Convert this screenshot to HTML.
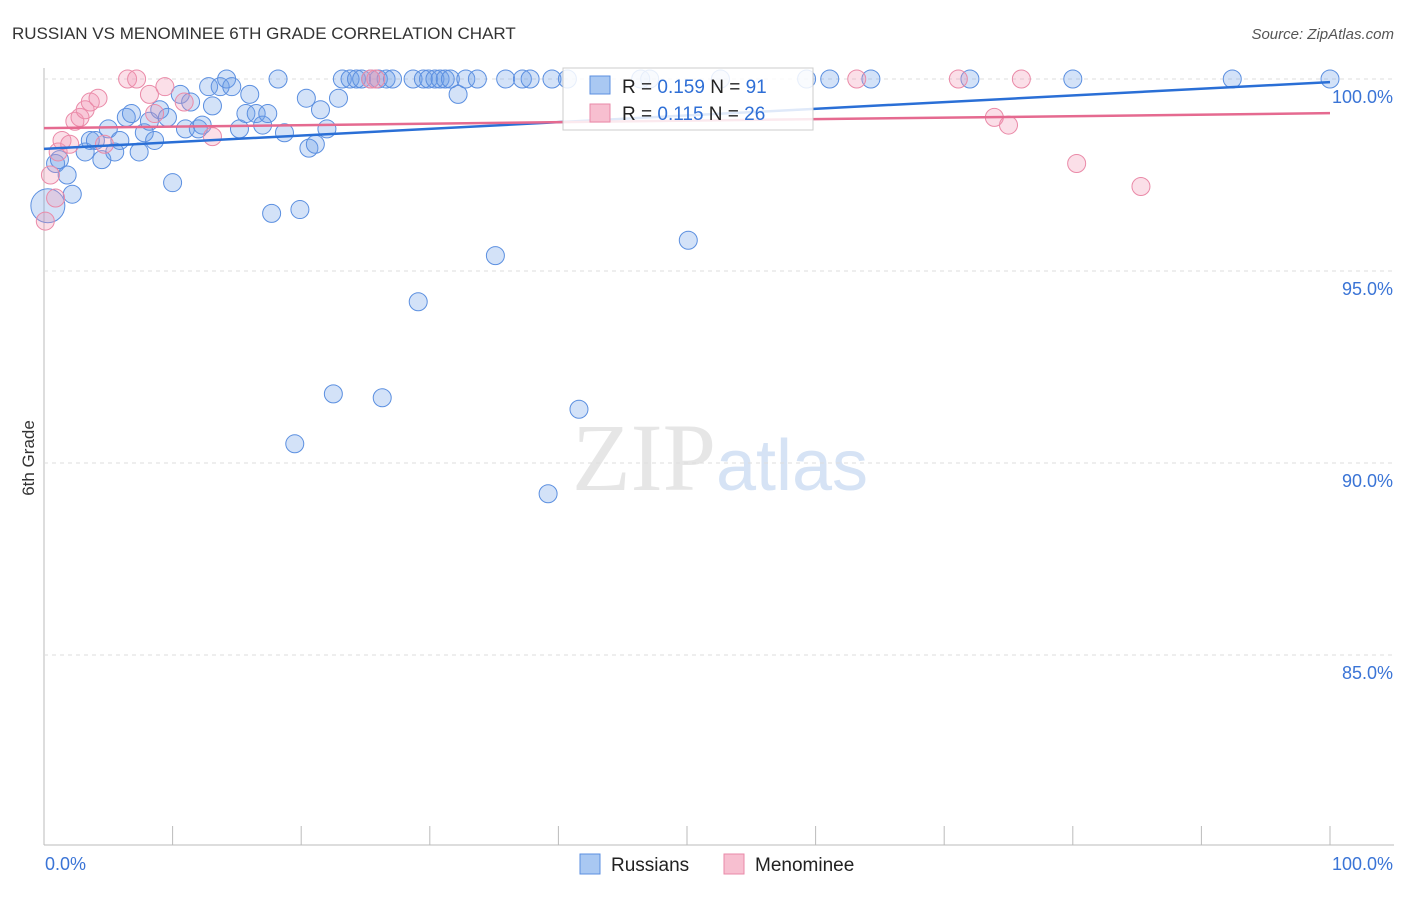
<!DOCTYPE html>
<html><head><meta charset="utf-8"><style>
body{margin:0;background:#fff;font-family:"Liberation Sans",sans-serif}
</style></head><body>
<svg id="c" width="1406" height="892" xmlns="http://www.w3.org/2000/svg" style="font-family:'Liberation Sans',sans-serif">
<text x="12" y="39" font-size="17" fill="#333">RUSSIAN VS MENOMINEE 6TH GRADE CORRELATION CHART</text>
<text x="1394" y="39" font-size="15" fill="#555" font-style="italic" text-anchor="end">Source: ZipAtlas.com</text>
<text x="34" y="458" font-size="17" fill="#333" transform="rotate(-90 34 458)" text-anchor="middle">6th Grade</text>
<text x="720" y="490" font-size="96" fill="#e6e6e6" text-anchor="middle" font-family="Liberation Serif">ZIP<tspan fill="#d6e3f5" font-family="Liberation Sans" font-size="72">atlas</tspan></text>
<g id="grid"></g><g id="pts"></g><g id="lines"></g>
<g>
<rect x="563" y="68" width="250" height="62" fill="#fff" fill-opacity="0.85" stroke="#ccc"/>
<rect x="590" y="76" width="20" height="18" fill="#a9c8f2" stroke="#5b8fe0"/>
<rect x="590" y="104" width="20" height="18" fill="#f7bfd0" stroke="#ea8aa8"/>
<text x="622" y="93" font-size="19" fill="#222">R = <tspan fill="#2f6fd6">0.159</tspan>   N =  <tspan fill="#2f6fd6">91</tspan></text>
<text x="622" y="120" font-size="19" fill="#222">R =  <tspan fill="#2f6fd6">0.115</tspan>   N = <tspan fill="#2f6fd6">26</tspan></text>
</g>
<g>
<rect x="580" y="854" width="20" height="20" fill="#a9c8f2" stroke="#5b8fe0"/>
<text x="611" y="871" font-size="19" fill="#222">Russians</text>
<rect x="724" y="854" width="20" height="20" fill="#f7bfd0" stroke="#ea8aa8"/>
<text x="755" y="871" font-size="19" fill="#222">Menominee</text>
</g>
</svg>
<script>
const yTicks=[100,95,90,85];
const xLabels=["0.0%","100.0%"];
const blueX=[0.3,0.9,1.2,1.8,2.2,3.2,3.6,4.0,4.5,5.0,5.5,5.9,6.4,6.8,7.4,7.8,8.2,8.6,9.0,9.6,10.0,10.6,11.0,11.4,12.0,12.3,12.8,13.1,13.7,14.2,14.6,15.2,15.7,16.0,16.5,17.0,17.4,17.7,18.2,18.7,19.5,19.9,20.4,20.6,21.1,21.5,22.0,22.5,22.9,23.2,23.8,24.3,24.7,25.4,26.0,26.3,26.6,27.1,28.7,29.1,29.5,29.9,30.4,30.8,31.2,31.6,32.2,32.8,33.7,35.1,35.9,37.2,37.8,39.2,39.5,40.7,41.6,46.4,47.1,50.1,52.6,59.3,61.1,64.3,72.0,80.0,92.4,100.0];
const blueY=[96.7,97.8,97.9,97.5,97.0,98.1,98.4,98.4,97.9,98.7,98.1,98.4,99.0,99.1,98.1,98.6,98.9,98.4,99.2,99.0,97.3,99.6,98.7,99.4,98.7,98.8,99.8,99.3,99.8,100,99.8,98.7,99.1,99.6,99.1,98.8,99.1,96.5,100,98.6,90.5,96.6,99.5,98.2,98.3,99.2,98.7,91.8,99.5,100,100,100,100,100,100,91.7,100,100,100,94.2,100,100,100,100,100,100,99.6,100,100,95.4,100,100,100,89.2,100,100,91.4,100,100,95.8,100,100,100,100,100,100,100,100];
const pinkX=[0.1,0.5,0.9,1.1,1.4,2.0,2.4,2.8,3.2,3.6,4.2,4.7,6.5,7.2,8.2,8.6,9.4,10.9,13.1,25.4,25.8,63.2,71.1,76.0,73.9,75.0,80.3,85.3];
const pinkY=[96.3,97.5,96.9,98.1,98.4,98.3,98.9,99.0,99.2,99.4,99.5,98.3,100,100,99.6,99.1,99.8,99.4,98.5,100,100,100,100,100,99.0,98.8,97.8,97.2];
const blueTrend=[98.18,99.92], pinkTrend=[98.72,99.11];
const X=v=>44+v*12.86, Y=v=>79+(100-v)*38.4;
const NS="http://www.w3.org/2000/svg";
function mk(t,a,p){const e=document.createElementNS(NS,t);for(const k in a)e.setAttribute(k,a[k]);p.appendChild(e);return e;}
const grid=document.getElementById('grid');
const ax=mk('line',{x1:44,y1:68,x2:44,y2:845,stroke:'#bbb'},grid);


const bx=mk('line',{x1:44,y1:845,x2:1394,y2:845,stroke:'#bbb'},grid);


yTicks.forEach(t=>{
 const g=mk('line',{x1:44,x2:1394,y1:Y(t),y2:Y(t),stroke:'#ddd','stroke-dasharray':'4,4'},grid);
 
 
 const l=mk('text',{x:1393,y:Y(t)+24,'font-size':18,fill:'#3a74d6','text-anchor':'end'},grid);
 l.textContent=t.toFixed(1)+'%';
 
 
});
for(let i=0;i<=10;i++){
 const tk=mk('line',{x1:X(i*10),x2:X(i*10),y1:826,y2:845,stroke:'#bbb'},grid);
 
 
}
const xl0=mk('text',{x:45,y:870,'font-size':18,fill:'#3a74d6'},grid);xl0.textContent=xLabels[0];


const xl1=mk('text',{x:1393,y:870,'font-size':18,fill:'#3a74d6','text-anchor':'end'},grid);xl1.textContent=xLabels[1];


const pts=document.getElementById('pts');
blueX.forEach((x,i)=>{const c=mk('circle',{cx:X(x),cy:Y(blueY[i]),r:i==0?17:9,fill:'rgba(110,160,232,0.3)',stroke:'#5b8fe0','stroke-width':1},pts);
 
 });
pinkX.forEach((x,i)=>{const c=mk('circle',{cx:X(x),cy:Y(pinkY[i]),r:9,fill:'rgba(242,150,180,0.3)',stroke:'#ea8aa8','stroke-width':1},pts);
 
 });
const lines=document.getElementById('lines');
const bl=mk('line',{x1:X(0),y1:Y(blueTrend[0]),x2:X(100),y2:Y(blueTrend[1]),stroke:'#2a6fd6','stroke-width':2.5},lines);


const pl=mk('line',{x1:X(0),y1:Y(pinkTrend[0]),x2:X(100),y2:Y(pinkTrend[1]),stroke:'#e56a90','stroke-width':2.5},lines);


</script>
</body></html>
